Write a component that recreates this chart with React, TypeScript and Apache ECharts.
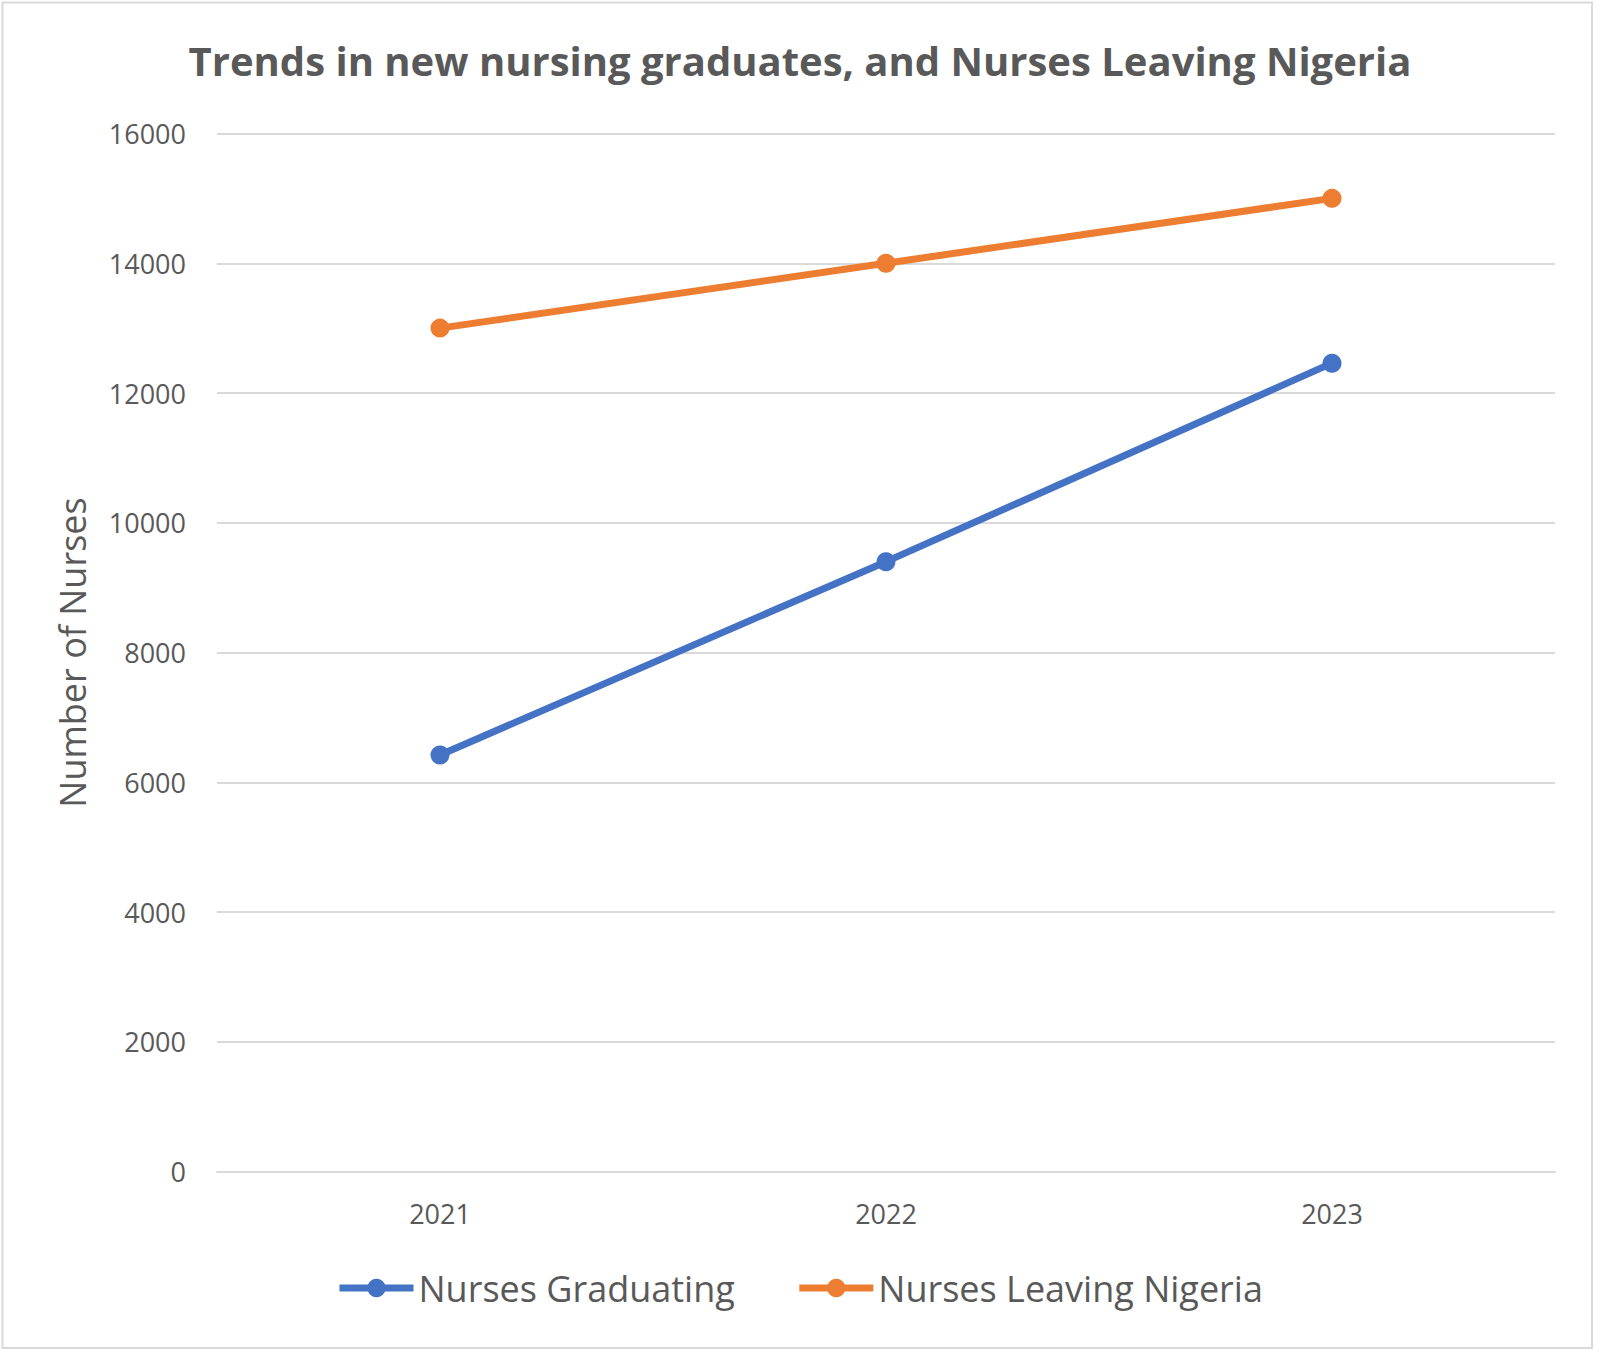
import React, { useEffect, useRef } from "react";
import * as echarts from "echarts";

const years = ["2021", "2022", "2023"];
const nursesGraduating = [6420, 9400, 12460];
const nursesLeaving = [13000, 14000, 15000];
const yTicks = { min: 0, max: 16000, interval: 2000 };

const TEXT = "#595959";
const GRID = "#D9D9D9";
const BLUE = "#4472C4";
const ORANGE = "#ED7D31";

export default function App() {
  const ref = useRef<HTMLDivElement>(null);
  useEffect(() => {
    document.body.style.margin = "0";
    const chart = echarts.init(ref.current!, null, { renderer: "svg" });
    chart.setOption({
      animation: false,
      backgroundColor: "#ffffff",
      title: {
        text: "Trends in new nursing graduates, and Nurses Leaving Nigeria",
        left: "center",
        top: 35,
        textStyle: { fontFamily: "Open Sans", fontWeight: "bold", fontSize: 40, color: TEXT },
      },
      grid: { left: 217, right: 45, top: 133.5, bottom: 182.5, containLabel: false },
      legend: {
        left: 331,
        top: 1265,
        itemWidth: 74,
        itemHeight: 23,
        itemGap: 61,
        lineStyle: { width: 7 },
        textStyle: { fontFamily: "Open Sans", fontSize: 36, color: TEXT },
        data: ["Nurses Graduating", "Nurses Leaving Nigeria"],
      },
      xAxis: {
        type: "category",
        data: years,
        boundaryGap: true,
        axisLine: { show: true, lineStyle: { color: GRID, width: 2 } },
        axisTick: { show: false },
        axisLabel: { fontFamily: "Open Sans", fontSize: 27, color: TEXT, margin: 28 },
      },
      yAxis: {
        type: "value",
        min: yTicks.min,
        max: yTicks.max,
        interval: yTicks.interval,
        name: "Number of Nurses",
        nameLocation: "middle",
        nameGap: 127,
        nameTextStyle: { fontFamily: "Open Sans", fontSize: 36, color: TEXT },
        axisLine: { show: false },
        axisTick: { show: false },
        splitLine: { lineStyle: { color: GRID, width: 2 } },
        axisLabel: {
          fontFamily: "Open Sans",
          fontSize: 27,
          color: TEXT,
          margin: 31,
          formatter: (v: number) => String(v),
        },
      },
      series: [
        {
          name: "Nurses Graduating",
          type: "line",
          data: nursesGraduating,
          symbol: "circle",
          symbolSize: 19,
          lineStyle: { color: BLUE, width: 7 },
          itemStyle: { color: BLUE },
        },
        {
          name: "Nurses Leaving Nigeria",
          type: "line",
          data: nursesLeaving,
          symbol: "circle",
          symbolSize: 19,
          lineStyle: { color: ORANGE, width: 7 },
          itemStyle: { color: ORANGE },
        },
      ],
      graphic: [
        {
          type: "rect",
          shape: { x: 2.5, y: 2.5, width: 1589.5, height: 1345.5 },
          style: { fill: "none", stroke: GRID, lineWidth: 2 },
          silent: true,
        },
      ],
    });
    return () => chart.dispose();
  }, []);
  return <div ref={ref} style={{ width: 1600, height: 1354 }} />;
}
